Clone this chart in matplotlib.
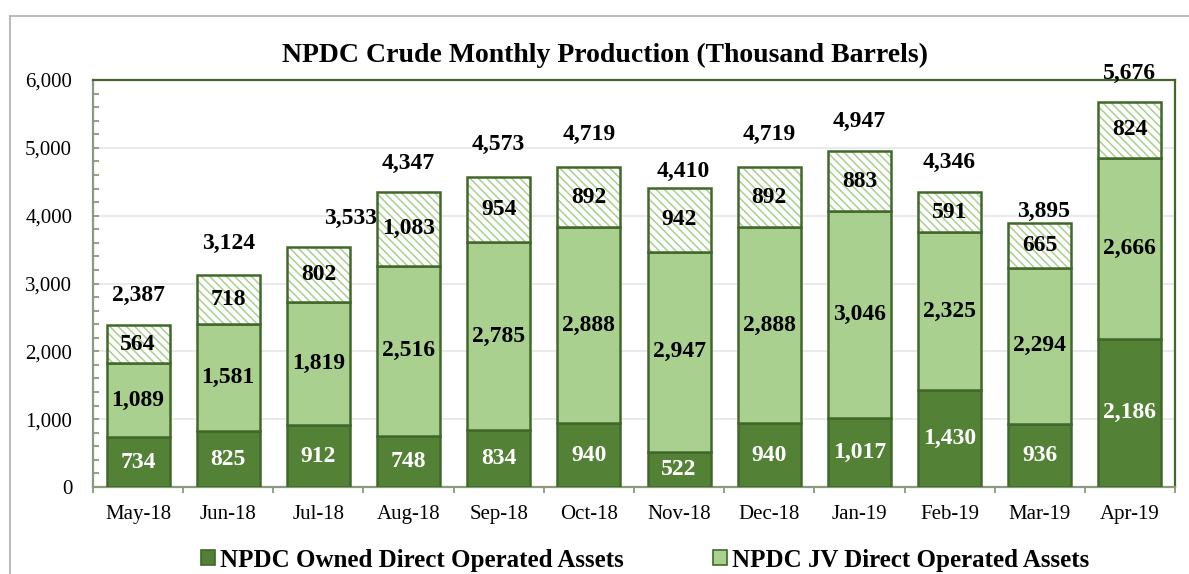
import matplotlib
matplotlib.use("Agg")
import matplotlib.pyplot as plt
from matplotlib.lines import Line2D
from matplotlib.patches import Patch
from matplotlib.ticker import MultipleLocator, FuncFormatter
import numpy as np

months = ["May-18", "Jun-18", "Jul-18", "Aug-18", "Sep-18", "Oct-18",
          "Nov-18", "Dec-18", "Jan-19", "Feb-19", "Mar-19", "Apr-19"]
owned = [734, 825, 912, 748, 834, 940, 522, 940, 1017, 1430, 936, 2186]
jv = [1089, 1581, 1819, 2516, 2785, 2888, 2947, 2888, 3046, 2325, 2294, 2666]
other = [564, 718, 802, 1083, 954, 892, 942, 892, 883, 591, 665, 824]
totals = [2387, 3124, 3533, 4347, 4573, 4719, 4410, 4719, 4947, 4346, 3895, 5676]

# layout of the total labels (pixels above bar top / to the right)
total_dy = [30, 32, 29, 29, 32, 32, 16, 32, 30, 30, 11, 29]
total_dx = [0, 0, 32, 0, 0, 0, 4, 0, 0, 0, 4, 0]

DARK = "#538135"
LIGHT = "#a9d08e"
EDGE = "#41682a"
HATCH = "#a9d08e"
AXC = "#8a9a7c"

plt.rcParams["font.family"] = ["Liberation Serif", "DejaVu Serif"]
plt.rcParams["hatch.linewidth"] = 1.1

W, H = 1189, 574
fig = plt.figure(figsize=(W / 100, H / 100), dpi=100)
ax = fig.add_axes([93 / W, 1 - 487 / H, (1175 - 93) / W, (487 - 80) / H])

x = np.arange(len(months))
bw = 0.70
owned_a = np.array(owned)
jv_a = np.array(jv)
other_a = np.array(other)

ax.bar(x, owned_a, bw, color=DARK, edgecolor=EDGE, linewidth=1.8, zorder=3)
ax.bar(x, jv_a, bw, bottom=owned_a, color=LIGHT, edgecolor=EDGE, linewidth=1.8, zorder=3)
ax.bar(x, other_a, bw, bottom=owned_a + jv_a, color="white", edgecolor=HATCH,
       hatch="\\\\\\\\", linewidth=0, zorder=3)
ax.bar(x, other_a, bw, bottom=owned_a + jv_a, fill=False, edgecolor=EDGE,
       linewidth=1.8, zorder=4)

lab_fs = 17
for i in range(len(months)):
    ax.text(x[i], owned[i] / 2, f"{owned[i]:,}", ha="center", va="center",
            color="white", fontsize=lab_fs, fontweight="bold", zorder=5)
    ax.text(x[i], owned[i] + jv[i] / 2, f"{jv[i]:,}", ha="center", va="center",
            color="black", fontsize=lab_fs, fontweight="bold", zorder=5)
    ax.text(x[i], owned[i] + jv[i] + other[i] / 2, f"{other[i]:,}", ha="center",
            va="center", color="black", fontsize=lab_fs, fontweight="bold", zorder=5)
    top = owned[i] + jv[i] + other[i]
    ax.annotate(f"{totals[i]:,}", xy=(x[i], top),
                xytext=(total_dx[i] * 0.72, total_dy[i] * 0.72),
                textcoords="offset points", ha="center", va="center",
                fontsize=lab_fs, fontweight="bold", color="black", zorder=5,
                annotation_clip=False)

ax.set_xlim(-0.5, len(months) - 0.5)
ax.set_ylim(0, 6000)
ax.yaxis.set_major_locator(MultipleLocator(1000))
ax.yaxis.set_minor_locator(MultipleLocator(200))
ax.yaxis.set_major_formatter(FuncFormatter(lambda v, p: f"{int(v):,}"))
ax.grid(axis="y", which="major", color="#e6e6e6", linewidth=1.2, zorder=0)
ax.set_axisbelow(True)

ax.set_xticks(x)
ax.set_xticklabels(months)
ax.set_xticks(np.arange(-0.5, len(months)), minor=True)
ax.tick_params(axis="x", which="major", length=0, pad=13, labelsize=15)
ax.tick_params(axis="x", which="minor", length=4, width=1.3, color=AXC, direction="out")
ax.tick_params(axis="y", which="both", direction="in", length=4, width=1.3,
               color=AXC, labelsize=15, pad=15)

for s in ["left", "bottom"]:
    ax.spines[s].set_color(AXC)
    ax.spines[s].set_linewidth(1.6)
for s in ["top", "right"]:
    ax.spines[s].set_color(EDGE)
    ax.spines[s].set_linewidth(1.6)

fig.text(605 / W, 1 - 55 / H, "NPDC Crude Monthly Production (Thousand Barrels)",
         ha="center", va="center", fontsize=20, fontweight="bold")

handles = [Patch(facecolor=DARK, edgecolor=EDGE, linewidth=1.2),
           Patch(facecolor=LIGHT, edgecolor=EDGE, linewidth=1.2)]
fig.legend(handles, ["NPDC Owned Direct Operated Assets", "NPDC JV Direct Operated Assets"],
           loc="center", bbox_to_anchor=(645 / W, 1 - 560 / H), ncol=2, frameon=False,
           prop={"weight": "bold", "size": 18}, handlelength=0.55, handleheight=0.55,
           handletextpad=0.2, columnspacing=3.6, borderaxespad=0)

# outer chart border (partly cropped in reference)
fig.add_artist(Line2D([10 / W, 1.0], [1 - 16 / H, 1 - 16 / H], transform=fig.transFigure,
                      color="#b4b4b4", linewidth=1.3))
fig.add_artist(Line2D([10 / W, 10 / W], [1 - 16 / H, 0], transform=fig.transFigure,
                      color="#b4b4b4", linewidth=1.3))

fig.savefig("out.png", dpi=100)
